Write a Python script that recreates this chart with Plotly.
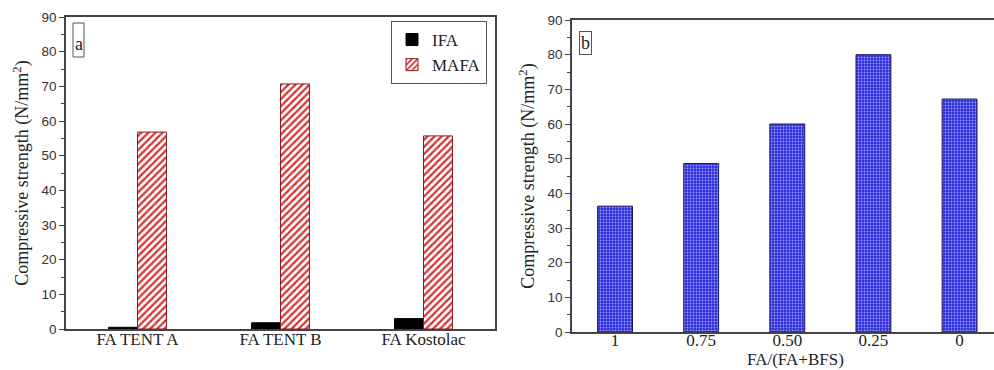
import plotly.graph_objects as go

# Panel (a): fly-ash sources, IFA vs MAFA
sources = ["FA TENT A", "FA TENT B", "FA Kostolac"]
ifa_strength = [0.5, 1.8, 3.0]
mafa_strength = [56.8, 70.7, 55.7]

# Panel (b): FA/(FA+BFS) ratio
ratios = ["1", "0.75", "0.50", "0.25", "0"]
ratio_strength = [36.3, 48.6, 60.0, 80.0, 67.2]

y_ticks = [0, 10, 20, 30, 40, 50, 60, 70, 80, 90]

W, H = 994, 370
SERIF = "Liberation Serif"
SANS = "Liberation Sans"
AXIS_COLOR = "#444444"
TEXT_COLOR = "#222222"

fig = go.Figure()

fig.add_trace(go.Bar(
    x=sources, y=ifa_strength, name="IFA",
    marker=dict(color="black", line=dict(color="black", width=1)),
    xaxis="x", yaxis="y",
))
fig.add_trace(go.Bar(
    x=sources, y=mafa_strength, name="MAFA",
    marker=dict(
        color="white",
        line=dict(color="#8b1a1a", width=1),
        pattern=dict(shape="/", fgcolor="#d83030", bgcolor="white",
                     size=5, solidity=0.45, fillmode="replace"),
    ),
    xaxis="x", yaxis="y",
))
fig.add_trace(go.Bar(
    x=ratios, y=ratio_strength, name="FA/(FA+BFS)", showlegend=False,
    marker=dict(
        color="#2e2ed8",
        line=dict(color="#1a1a60", width=1),
        pattern=dict(shape=".", fgcolor="#9a9aff", bgcolor="#2e2ed8",
                     size=3, solidity=0.3, fillmode="replace"),
    ),
    xaxis="x2", yaxis="y2",
))


def y_axis(domain, mirror, anchor):
    return dict(
        domain=domain, anchor=anchor, range=[0, 90],
        tickvals=y_ticks, ticks="outside", ticklen=5, tickwidth=1.2,
        tickcolor=AXIS_COLOR,
        minor=dict(dtick=5, ticks="outside", ticklen=3, tickcolor=AXIS_COLOR),
        showline=True, linecolor=AXIS_COLOR, linewidth=1.6, mirror=mirror,
        showgrid=False, zeroline=False,
        tickfont=dict(family=SANS, size=13.5, color="#333333"),
        title=dict(text="Compressive strength (N/mm<sup>2</sup>)",
                   font=dict(family=SERIF, size=18, color=TEXT_COLOR),
                   standoff=8),
        automargin=False,
    )


def x_axis(domain, rng, anchor, standoff):
    return dict(
        domain=domain, anchor=anchor, range=rng,
        showline=True, linecolor=AXIS_COLOR, linewidth=1.6, mirror=True,
        ticks="", showgrid=False, ticklabelstandoff=standoff,
        tickfont=dict(family=SERIF, size=17, color=TEXT_COLOR),
        automargin=False,
    )


fig.update_layout(
    width=W, height=H,
    margin=dict(l=0, r=0, t=0, b=0),
    paper_bgcolor="white", plot_bgcolor="white",
    barmode="group", bargap=0.595, bargroupgap=0.0,
    xaxis=x_axis([66 / W, 495 / W], [-0.5, 2.5], "y", -6),
    yaxis=y_axis([(H - 329) / H, (H - 17) / H], True, "x"),
    xaxis2=x_axis([572 / W, 1.0], [-0.5, 4.4], "y2", -8),
    yaxis2=y_axis([(H - 332) / H, (H - 20) / H], False, "x2"),
    legend=dict(
        x=391 / W, y=(H - 21) / H, xanchor="left", yanchor="top",
        bgcolor="white", bordercolor="#555555", borderwidth=1,
        font=dict(family=SERIF, size=17, color=TEXT_COLOR),
        tracegroupgap=0,
    ),
    showlegend=True,
)

# x-axis title of panel (b)
fig.add_annotation(text="FA/(FA+BFS)", xref="paper", yref="paper",
                   x=795 / W, y=0, xanchor="center",
                   yanchor="bottom", showarrow=False, borderpad=0,
                   font=dict(family=SERIF, size=17, color=TEXT_COLOR))

# Panel letters in framed boxes
fig.add_shape(type="rect", xref="paper", yref="paper",
              x0=73 / W, x1=84 / W, y0=(H - 57) / H, y1=(H - 23) / H,
              line=dict(color="#555555", width=1), fillcolor="white")
fig.add_annotation(text="a", xref="paper", yref="paper",
                   x=78.5 / W, y=(H - 44) / H, xanchor="center",
                   yanchor="middle", showarrow=False,
                   font=dict(family=SERIF, size=18, color=TEXT_COLOR))
fig.add_annotation(text="b", xref="paper", yref="paper",
                   x=585.5 / W, y=(H - 43) / H, xanchor="center",
                   yanchor="middle", showarrow=False,
                   font=dict(family=SERIF, size=18, color=TEXT_COLOR),
                   bordercolor="#555555", borderwidth=1, borderpad=1,
                   bgcolor="white")

fig.write_html("out.html")
